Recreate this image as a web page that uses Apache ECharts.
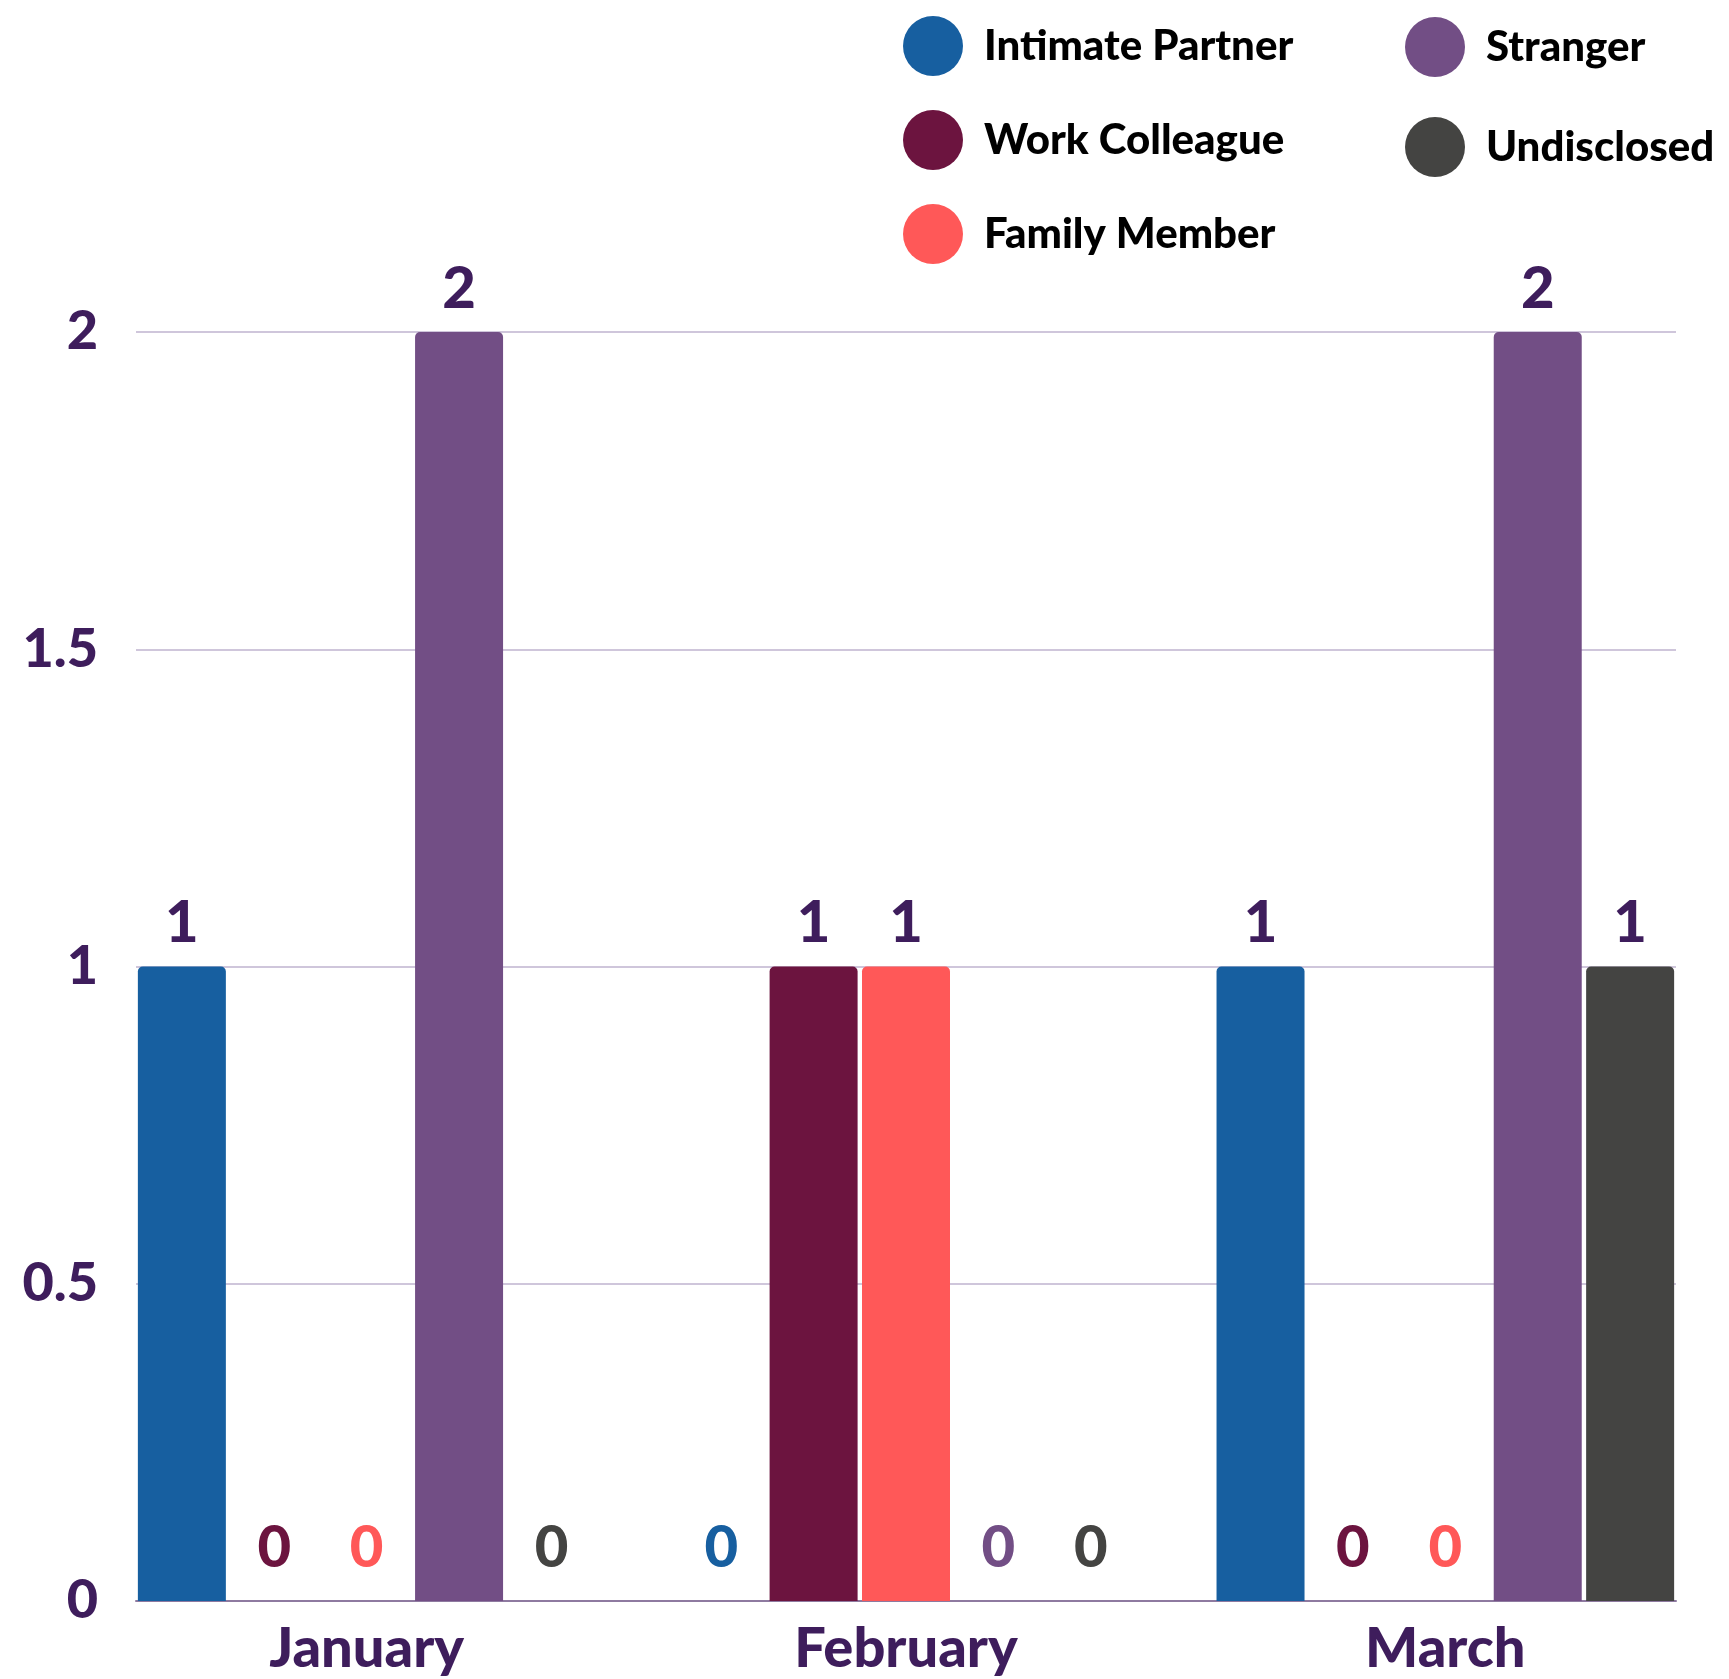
<!DOCTYPE html>
<html>
<head>
<meta charset="utf-8">
<script src="https://cdn.jsdelivr.net/npm/echarts@6/dist/echarts.min.js"></script>
<style>
html,body{margin:0;padding:0;background:#fff;}
#chart{width:1729px;height:1679px;}
</style>
</head>
<body>
<div id="chart"></div>
<script>
const categories = ['January', 'February', 'March'];
const seriesNames = ['Intimate Partner', 'Work Colleague', 'Family Member', 'Stranger', 'Undisclosed'];
const intimatePartner = [1, 0, 1];
const workColleague = [0, 1, 0];
const familyMember = [0, 1, 0];
const stranger = [2, 0, 2];
const undisclosed = [0, 0, 1];
const yTicks = [0, 0.5, 1, 1.5, 2];

const colors = ['#175fa0', '#6c143f', '#ff5858', '#724e85', '#444442'];
const labelColor = '#3e1d5c';
const FONT = 'Lato, "DejaVu Sans", sans-serif';

const values = [intimatePartner, workColleague, familyMember, stranger, undisclosed];

const chart = echarts.init(document.getElementById('chart'));

const series = seriesNames.map((name, i) => ({
  name: name,
  type: 'bar',
  xAxisIndex: 0,
  yAxisIndex: 0,
  barWidth: 88,
  barGap: '5%',
  itemStyle: { color: colors[i], borderRadius: [5, 5, 0, 0] },
  label: {
    show: true,
    position: 'top',
    distance: 14,
    fontFamily: FONT,
    fontWeight: 900,
    fontSize: 58
  },
  data: values[i].map(v => ({
    value: v,
    label: v === 0 ? { color: colors[i], distance: 24 } : { color: labelColor }
  }))
}));

const legendText = { color: '#000', fontFamily: FONT, fontWeight: 900, fontSize: 42 };

const option = {
  backgroundColor: '#ffffff',
  animation: false,
  color: colors,
  legend: [
    {
      data: seriesNames.slice(0, 3),
      orient: 'vertical',
      left: 898,
      top: 11,
      itemWidth: 60,
      itemHeight: 60,
      itemGap: 34,
      icon: 'circle',
      textStyle: Object.assign({ padding: [0, 0, 0, 16] }, legendText)
    },
    {
      data: seriesNames.slice(3),
      orient: 'vertical',
      left: 1400,
      top: 12,
      itemWidth: 60,
      itemHeight: 60,
      itemGap: 40,
      icon: 'circle',
      textStyle: Object.assign({ padding: [6, 0, 0, 16] }, legendText)
    }
  ],
  grid: [
    { left: 97, right: 14, top: 332, bottom: 78, containLabel: false },
    { left: 136, right: 53, top: 332, bottom: 78, containLabel: false }
  ],
  xAxis: [
    {
      type: 'category',
      gridIndex: 0,
      data: categories,
      axisLine: { show: false },
      axisTick: { show: false },
      axisLabel: { color: labelColor, fontFamily: FONT, fontWeight: 900, fontSize: 56, margin: 20 }
    },
    {
      type: 'category',
      gridIndex: 1,
      data: categories,
      axisLine: { show: true, lineStyle: { color: '#8e7aa0', width: 2 } },
      axisTick: { show: false },
      axisLabel: { show: false },
      splitLine: { show: false }
    }
  ],
  yAxis: [
    {
      type: 'value',
      gridIndex: 0,
      min: yTicks[0],
      max: yTicks[yTicks.length - 1],
      interval: 0.5,
      show: false,
      splitLine: { show: false }
    },
    {
      type: 'value',
      gridIndex: 1,
      min: yTicks[0],
      max: yTicks[yTicks.length - 1],
      interval: 0.5,
      axisLine: { show: false },
      axisTick: { show: false },
      axisLabel: { color: labelColor, fontFamily: FONT, fontWeight: 900, fontSize: 54, margin: 38 },
      splitLine: { show: true, lineStyle: { color: '#cfc6db', width: 2 } }
    }
  ],
  series: series
};

chart.setOption(option);
</script>
</body>
</html>
